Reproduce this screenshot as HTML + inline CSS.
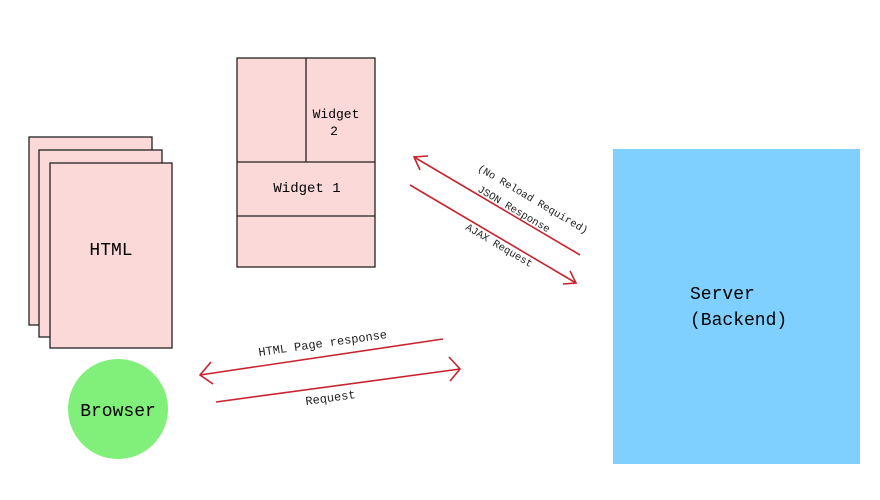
<!DOCTYPE html>
<html><head><style>body{margin:0;background:#fff}</style></head><body>
<svg width="880" height="495" xmlns="http://www.w3.org/2000/svg" font-family="Liberation Mono, monospace">
<g fill="#fcd9d9" stroke="#222" stroke-width="1.3">
<rect x="29" y="137" width="123" height="188"/>
<rect x="39" y="150" width="123" height="187"/>
<rect x="50" y="163" width="122" height="185"/>
<rect x="237" y="58" width="138" height="209"/>
</g>
<g stroke="#222" stroke-width="1.3">
<line x1="306" y1="58" x2="306" y2="162"/>
<line x1="237" y1="162" x2="375" y2="162"/>
<line x1="237" y1="216" x2="375" y2="216"/>
</g>
<text x="111" y="255" font-size="18" text-anchor="middle">HTML</text>
<text x="336" y="118" font-size="13" text-anchor="middle">Widget</text>
<text x="334" y="135" font-size="13" text-anchor="middle">2</text>
<text x="307" y="192" font-size="14" text-anchor="middle">Widget 1</text>
<rect x="613" y="149" width="247" height="315" fill="#7fcfff"/>
<text x="690" y="299" font-size="18">Server</text>
<text x="690" y="325" font-size="18">(Backend)</text>
<circle cx="118" cy="409" r="50" fill="#80f07a"/>
<text x="118" y="416" font-size="18" text-anchor="middle">Browser</text>
<g stroke="#c8242e" stroke-width="1.6" fill="none">
<line x1="580" y1="255" x2="414" y2="157"/>
<polyline points="420,170 414,157 428,156"/>
<line x1="410" y1="185" x2="576" y2="283"/>
<polyline points="563,284 576,283 570,271"/>
<line x1="443" y1="339" x2="200" y2="375"/>
<polyline points="211,362 200,375 213,384"/>
<line x1="216" y1="402" x2="460" y2="369"/>
<polyline points="449,357 460,369 450,381"/>
</g>
<g font-size="10.5" fill="#222">
<text transform="translate(477,170) rotate(30.5)">(No Reload Required)</text>
<text transform="translate(477,191) rotate(30.5)">JSON Response</text>
<text transform="translate(465,229) rotate(30.5)">AJAX Request</text>
<text transform="translate(259,356) rotate(-8)" font-size="12">HTML Page response</text>
<text transform="translate(306,405) rotate(-8)" font-size="12">Request</text>
</g>
</svg>
</body></html>
